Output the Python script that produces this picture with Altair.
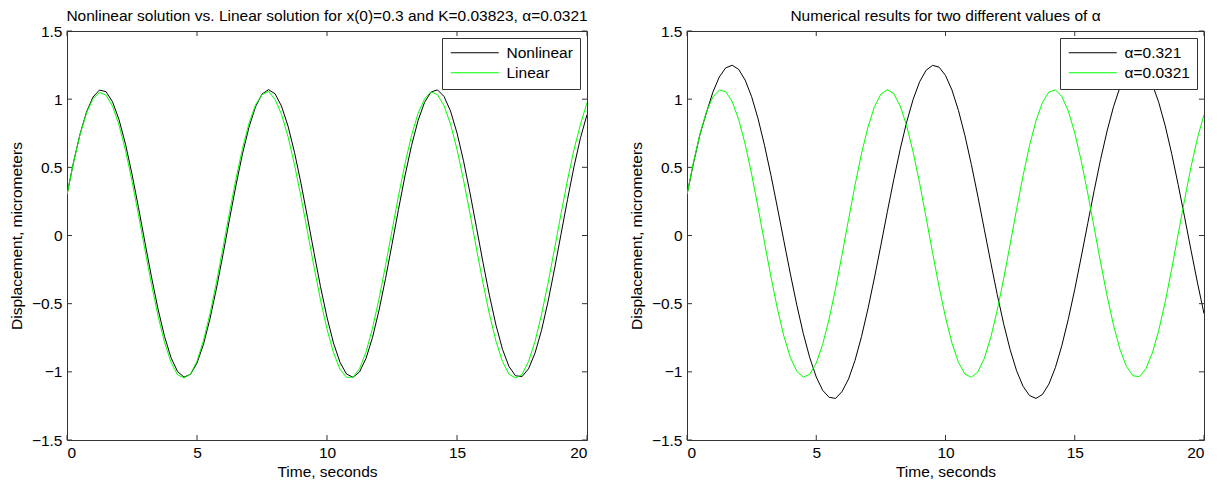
import altair as alt
import pandas as pd

# ---------------- data ----------------
time_s = [round(0.25 * i, 2) for i in range(81)]

nonlinear = [
    0.300, 0.537, 0.743, 0.906, 1.016, 1.067, 1.055, 0.981, 0.850, 0.670,
    0.450, 0.204, -0.053, -0.305, -0.539, -0.740, -0.896, -0.997, -1.039, -1.018,
    -0.936, -0.797, -0.610, -0.386, -0.138, 0.119, 0.370, 0.600, 0.795, 0.944,
    1.037, 1.070, 1.040, 0.949, 0.803, 0.610, 0.382, 0.131, -0.126, -0.375,
    -0.600, -0.789, -0.930, -1.016, -1.040, -1.001, -0.902, -0.748, -0.549, -0.317,
    -0.065, 0.192, 0.438, 0.659, 0.842, 0.976, 1.053, 1.068, 1.020, 0.913,
    0.752, 0.548, 0.312, 0.058, -0.198, -0.442, -0.658, -0.835, -0.961, -1.029,
    -1.035, -0.978, -0.863, -0.696, -0.486, -0.246, 0.009, 0.264, 0.505, 0.717,
    0.886,
]

linear = [
    0.300, 0.536, 0.740, 0.899, 1.004, 1.049, 1.030, 0.949, 0.810, 0.624,
    0.399, 0.150, -0.108, -0.359, -0.589, -0.783, -0.930, -1.021, -1.045, -1.016,
    -0.921, -0.770, -0.573, -0.341, -0.088, 0.169, 0.417, 0.639, 0.823, 0.957,
    1.033, 1.058, 0.998, 0.889, 0.726, 0.519, 0.282, 0.026, -0.230, -0.473,
    -0.687, -0.860, -0.981, -1.040, -1.040, -0.978, -0.855, -0.680, -0.465, -0.221,
    0.036, 0.290, 0.528, 0.733, 0.894, 1.001, 1.055, 1.032, 0.953, 0.817,
    0.632, 0.408, 0.160, -0.098, -0.349, -0.580, -0.776, -0.925, -1.018, -1.045,
    -1.019, -0.925, -0.777, -0.581, -0.350, -0.099, 0.159, 0.407, 0.631, 0.816,
    0.975,
]

alpha_0321 = nonlinear

alpha_321 = [
    0.300, 0.530, 0.740, 0.900, 1.051, 1.163, 1.230, 1.249, 1.218, 1.140,
    1.018, 0.856, 0.660, 0.440, 0.202, -0.042, -0.283, -0.512, -0.720, -0.897,
    -1.038, -1.136, -1.187, -1.195, -1.144, -1.052, -0.916, -0.742, -0.538, -0.311,
    -0.071, 0.174, 0.412, 0.635, 0.834, 1.000, 1.128, 1.212, 1.248, 1.235,
    1.174, 1.067, 0.918, 0.734, 0.521, 0.289, 0.046, -0.197, -0.432, -0.648,
    -0.837, -0.992, -1.106, -1.174, -1.195, -1.166, -1.090, -0.969, -0.808, -0.614,
    -0.395, -0.158, 0.086, 0.328, 0.558, 0.766, 0.945, 1.087, 1.187, 1.240,
    1.245, 1.201, 1.110, 0.976, 0.804, 0.600, 0.374, 0.134, -0.110, -0.349,
    -0.573,
]

x_ticks = [0, 5, 10, 15, 20]
y_ticks = [-1.5, -1, -0.5, 0, 0.5, 1, 1.5]

left_names = ["Nonlinear", "Linear"]
right_names = ["α=0.321", "α=0.0321"]
series_colors = ["#000000", "#00ff00"]

left_title = "Nonlinear solution vs. Linear solution for x(0)=0.3 and K=0.03823, α=0.0321"
right_title = "Numerical results for two different values of α"

# ---------------- styling ----------------
FONT = "Liberation Sans"
AX = "#333333"
H = 409
TL = 5
FS = 15.5


def make_df(names, series):
    rows = []
    for name, vals in zip(names, series):
        for t, v in zip(time_s, vals):
            rows.append({"t": t, "y": v, "series": name})
    return pd.DataFrame(rows)


def panel(names, series, title, width):
    df = make_df(names, series)
    xs = alt.Scale(domain=[0, 20], nice=False, zero=False)
    ys = alt.Scale(domain=[-1.5, 1.5], nice=False, zero=False)

    lines = alt.Chart(df).mark_line(strokeWidth=1, clip=True).encode(
        x=alt.X("t:Q", scale=xs,
                axis=alt.Axis(title="Time, seconds", values=x_ticks, ticks=False,
                              domain=False, grid=False, labelPadding=5,
                              titlePadding=4)),
        y=alt.Y("y:Q", scale=ys,
                axis=alt.Axis(title="Displacement, micrometers", values=y_ticks,
                              format="~g", ticks=False, domain=False, grid=False,
                              labelPadding=5, titlePadding=7)),
        color=alt.Color("series:N",
                        scale=alt.Scale(domain=names, range=series_colors),
                        sort=names,
                        legend=alt.Legend(title=None, orient="top-right", offset=7,
                                          strokeColor=AX, fillColor="white",
                                          padding=7, symbolType="M-1,0L7,0",
                                          symbolSize=144, symbolStrokeWidth=1,
                                          labelFont=FONT, labelFontSize=FS,
                                          labelColor="black", labelOffset=42,
                                          rowPadding=3)),
    )

    xt = pd.DataFrame({"t": x_ticks})
    yt = pd.DataFrame({"y": y_ticks})
    tb = alt.Chart(xt).mark_rule(color=AX, strokeWidth=1).encode(
        x=alt.X("t:Q", scale=xs), y=alt.value(H), y2=alt.value(H - TL))
    tt = alt.Chart(xt).mark_rule(color=AX, strokeWidth=1).encode(
        x=alt.X("t:Q", scale=xs), y=alt.value(0), y2=alt.value(TL))
    tl = alt.Chart(yt).mark_rule(color=AX, strokeWidth=1).encode(
        y=alt.Y("y:Q", scale=ys), x=alt.value(0), x2=alt.value(TL))
    tr = alt.Chart(yt).mark_rule(color=AX, strokeWidth=1).encode(
        y=alt.Y("y:Q", scale=ys), x=alt.value(width), x2=alt.value(width - TL))

    return alt.layer(lines, tb, tt, tl, tr).properties(
        width=width, height=H,
        title=alt.TitleParams(title, font=FONT, fontSize=FS, fontWeight="normal",
                              anchor="middle", offset=0, color="black"),
    )


left = panel(left_names, [nonlinear, linear], left_title, 520)
right = panel(right_names, [alpha_321, alpha_0321], right_title, 517)

chart = alt.hconcat(left, right, spacing=39).resolve_scale(
    color="independent", x="independent", y="independent"
).properties(padding=0).configure_view(
    stroke=AX, strokeWidth=1
).configure_axis(
    labelFont=FONT, labelFontSize=FS, labelColor="black",
    titleFont=FONT, titleFontSize=FS, titleColor="black", titleFontWeight="normal",
)

chart.save("out.html", embed_options={"renderer": "svg", "actions": False})
